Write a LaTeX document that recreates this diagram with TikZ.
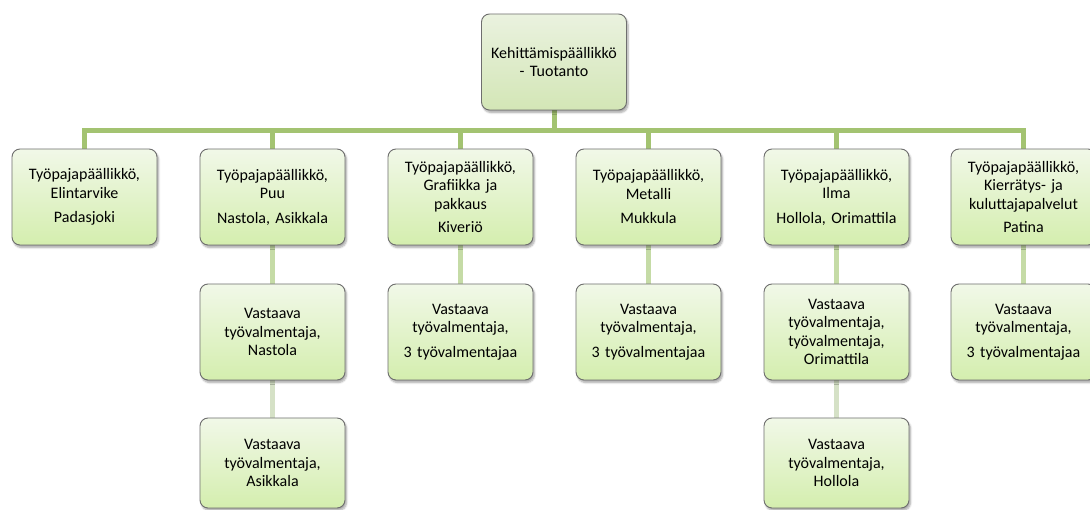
\documentclass[tikz,border=0pt]{standalone}
\usepackage{fontspec}
\setmainfont{Carlito}
\usetikzlibrary{backgrounds,shadows.blur,calc}
\definecolor{conn}{HTML}{A3C371}
\definecolor{connb}{HTML}{C5DBA6}
\definecolor{connc}{HTML}{D5E1C6}
\definecolor{boxtop}{HTML}{F1F8E8}
\definecolor{boxbot}{HTML}{D4EEAE}
\definecolor{toptop}{HTML}{EAF2DF}
\definecolor{topbot}{HTML}{D3E6B6}
\definecolor{boxline}{HTML}{6E6E6E}
\tikzset{
  box/.style={draw=boxline, line width=0.9pt, rounded corners=8pt,
    top color=boxtop, bottom color=boxbot,
    minimum width=145pt, minimum height=96pt, text width=140pt,
    align=center, inner sep=2pt,
    font=\fontsize{16}{18.5}\selectfont,
    blur shadow={shadow xshift=1.5pt, shadow yshift=-2.5pt, shadow blur steps=6, shadow opacity=35}},
  topbox/.style={box, top color=toptop, bottom color=topbot},
  lowbox/.style={box, minimum height=90pt},
  cmain/.style={draw=conn, line width=5pt},
  csub/.style={draw=connb, line width=5pt},
  clow/.style={draw=connc, line width=5pt},
}
\begin{document}
\begin{tikzpicture}[x=1pt,y=-1pt]
\useasboundingbox (0,0) rectangle (1090,510);
\node[topbox] (top) at (554,62) {Kehittämispäällikkö\\- Tuotanto};
\node[box] (a) at (84.5,197) {Työpajapäällikkö,\\Elintarvike\\[6pt]Padasjoki};
\node[box] (b) at (272.5,197) {Työpajapäällikkö,\\Puu\\[6pt]Nastola, Asikkala};
\node[box] (c) at (460.5,197) {Työpajapäällikkö,\\Grafiikka ja\\pakkaus\\[5pt]Kiveriö};
\node[box] (d) at (648.5,197) {Työpajapäällikkö,\\Metalli\\[6pt]Mukkula};
\node[box] (e) at (836.5,197) {Työpajapäällikkö,\\Ilma\\[6pt]Hollola, Orimattila};
\node[box] (f) at (1023.5,197) {Työpajapäällikkö,\\Kierrätys- ja\\kuluttajapalvelut\\[5pt]Patina};
\node[box] (b1) at (272.5,332) {Vastaava\\työvalmentaja,\\Nastola};
\node[box] (c1) at (460.5,332) {Vastaava\\työvalmentaja,\\[6pt]3 työvalmentajaa};
\node[box] (d1) at (648.5,332) {Vastaava\\työvalmentaja,\\[6pt]3 työvalmentajaa};
\node[box] (e1) at (836.5,332) {Vastaava\\työvalmentaja,\\työvalmentaja,\\Orimattila};
\node[box] (f1) at (1023.5,332) {Vastaava\\työvalmentaja,\\[6pt]3 työvalmentajaa};
\node[lowbox] (b2) at (272.5,463) {Vastaava\\työvalmentaja,\\Asikkala};
\node[lowbox] (e2) at (836.5,463) {Vastaava\\työvalmentaja,\\Hollola};
\coordinate (bar) at (0,130.5);
\begin{scope}[on background layer]
  \foreach \n in {a,b,c,d,e,f}
    \draw[cmain] (top.south) -- (top.south |- bar) -| (\n.north);
  \foreach \p/\q in {b/b1,c/c1,d/d1,e/e1,f/f1}
    \draw[csub] (\p.south) -- (\q.north);
  \foreach \p/\q in {b1/b2,e1/e2}
    \draw[clow] (\p.south) -- (\q.north);
\end{scope}
\end{tikzpicture}
\end{document}
